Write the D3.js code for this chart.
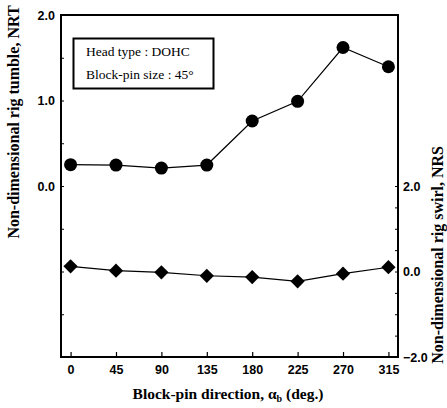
<!DOCTYPE html>
<html>
<head>
<meta charset="utf-8">
<script src="https://cdn.jsdelivr.net/npm/d3@7"></script>
<style>
  html, body { margin: 0; padding: 0; background: #fff; }
  svg { display: block; }
  .tick-label { font-family: "Liberation Sans", Arial, sans-serif; font-weight: bold; font-size: 12.5px; fill: #000; }
  .axis-title { font-family: "Liberation Serif", "Times New Roman", serif; font-weight: bold; fill: #000; }
  .note { font-family: "Liberation Serif", "Times New Roman", serif; font-size: 13.5px; fill: #000; }
</style>
</head>
<body>
<svg id="chart" width="447" height="408"></svg>
<script>
// Block-pin direction (deg.)
const directions = [0, 45, 90, 135, 180, 225, 270, 315];
// Non-dimensional rig tumble, NRT (left axis)
const tumble = [0.25, 0.245, 0.21, 0.245, 0.76, 0.99, 1.62, 1.395];
// Non-dimensional rig swirl, NRS (right axis)
const swirl = [0.12, 0.02, -0.02, -0.1, -0.13, -0.23, -0.05, 0.1];

const leftTickLabels = [0, 1, 2];
const rightTickLabels = [-2, 0, 2];
const noteLines = ["Head type : DOHC", "Block-pin size : 45°"];

const svg = d3.select("#chart");
const frame = { left: 61, right: 398, top: 15, bottom: 357 };

const x = d3.scaleLinear().domain([-9.5, 324.5]).range([frame.left, frame.right]);
const yL = d3.scaleLinear().domain([-2, 2]).range([frame.bottom, frame.top]);
const yR = d3.scaleLinear().domain([-2, 6]).range([frame.bottom, frame.top]);

// plot frame
svg.append("rect")
  .attr("x", frame.left).attr("y", frame.top)
  .attr("width", frame.right - frame.left).attr("height", frame.bottom - frame.top)
  .attr("fill", "none").attr("stroke", "#000").attr("stroke-width", 2);

// bottom axis: inward ticks, labels below
const xAxis = d3.axisBottom(x).tickValues(directions).tickSizeInner(-5).tickSizeOuter(0).tickPadding(10);
const gx = svg.append("g").attr("transform", `translate(0,${frame.bottom})`).call(xAxis);
gx.select(".domain").remove();
gx.selectAll("line").attr("stroke", "#000").attr("stroke-width", 1.2);
gx.selectAll("text").attr("class", "tick-label").attr("dy", "0.55em");

// left axis: minor ticks every 0.5, labels at 0, 1, 2
const gyl = svg.append("g").attr("transform", `translate(${frame.left},0)`)
  .call(d3.axisLeft(yL).tickValues(d3.range(-2, 2.01, 0.5)).tickSizeInner(-3).tickSizeOuter(0)
    .tickFormat(d => leftTickLabels.includes(d) ? d3.format(".1f")(d) : "").tickPadding(6));
gyl.select(".domain").remove();
gyl.selectAll("line").attr("stroke", "#000");
gyl.selectAll("text").attr("class", "tick-label");

// right axis: minor ticks every 0.5 between -2 and 2, labels at -2, 0, 2
const gyr = svg.append("g").attr("transform", `translate(${frame.right},0)`)
  .call(d3.axisRight(yR).tickValues(d3.range(-2, 2.01, 0.5)).tickSizeInner(-3).tickSizeOuter(0)
    .tickFormat(d => rightTickLabels.includes(d) ? d3.format(".1f")(d) : "").tickPadding(5));
gyr.select(".domain").remove();
gyr.selectAll("line").attr("stroke", "#000");
gyr.selectAll("text").attr("class", "tick-label");

// tumble series: line + filled circles
svg.append("path")
  .datum(directions.map((d, i) => [d, tumble[i]]))
  .attr("fill", "none").attr("stroke", "#000").attr("stroke-width", 1.2)
  .attr("d", d3.line().x(d => x(d[0])).y(d => yL(d[1])));
svg.append("g").selectAll("circle")
  .data(directions.map((d, i) => [d, tumble[i]]))
  .join("circle")
  .attr("cx", d => x(d[0])).attr("cy", d => yL(d[1])).attr("r", 6.5).attr("fill", "#000");

// swirl series: line + filled diamonds
svg.append("path")
  .datum(directions.map((d, i) => [d, swirl[i]]))
  .attr("fill", "none").attr("stroke", "#000").attr("stroke-width", 1.2)
  .attr("d", d3.line().x(d => x(d[0])).y(d => yR(d[1])));
svg.append("g").selectAll("path")
  .data(directions.map((d, i) => [d, swirl[i]]))
  .join("path")
  .attr("transform", d => `translate(${x(d[0])},${yR(d[1])})`)
  .attr("d", d3.symbol().type(d3.symbolDiamond2).size(130))
  .attr("fill", "#000");

// annotation box
const note = svg.append("g");
note.append("rect").attr("x", 73.5).attr("y", 38.5).attr("width", 140).attr("height", 50)
  .attr("fill", "#fff").attr("stroke", "#000").attr("stroke-width", 2);
note.selectAll("text").data(noteLines).join("text")
  .attr("class", "note").attr("x", 86).attr("y", (d, i) => 56 + i * 23).text(d => d);

// axis titles
svg.append("text").attr("class", "axis-title").attr("font-size", 15.5)
  .attr("x", 228).attr("y", 399).attr("text-anchor", "middle")
  .html("Block-pin direction, α<tspan font-size='10' dy='3'>b</tspan><tspan dy='-3'> (deg.)</tspan>");
svg.append("text").attr("class", "axis-title").attr("font-size", 16)
  .attr("transform", "translate(19,122) rotate(-90)").attr("text-anchor", "middle")
  .text("Non-dimensional rig tumble, NRT");
svg.append("text").attr("class", "axis-title").attr("font-size", 16)
  .attr("transform", "translate(443,146) rotate(-90)").attr("text-anchor", "end")
  .text("Non-dimensional rig swirl, NRS");
</script>
</body>
</html>
